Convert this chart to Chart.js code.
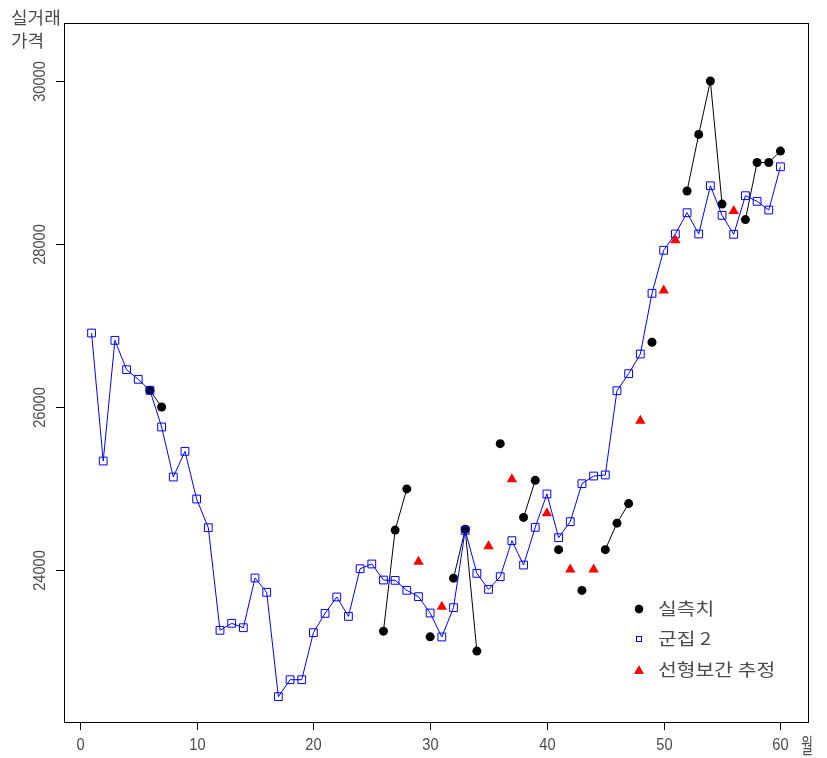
<!DOCTYPE html>
<html>
<head>
<meta charset="utf-8">
<script src="https://cdn.jsdelivr.net/npm/chart.js@4/dist/chart.umd.min.js"></script>
<style>
  html, body { margin: 0; padding: 0; background: #fff; }
  #wrap { width: 827px; height: 758px; }
</style>
</head>
<body>
<div id="wrap"><canvas id="chart" width="827" height="758"></canvas></div>
<script>
// month index (x axis)
const months = [1, 2, 3, 4, 5, 6, 7, 8, 9, 10, 11, 12, 13, 14, 15, 16, 17, 18, 19, 20,
  21, 22, 23, 24, 25, 26, 27, 28, 29, 30, 31, 32, 33, 34, 35, 36, 37, 38, 39, 40,
  41, 42, 43, 44, 45, 46, 47, 48, 49, 50, 51, 52, 53, 54, 55, 56, 57, 58, 59, 60];

// 실측치 (null = no trade that month)
const actual = [null, null, null, null, null, 26205, 26000, null, null, null,
  null, null, null, null, null, null, null, null, null, null,
  null, null, null, null, null, 23250, 24490, 24995, null, 23180,
  null, 23900, 24500, 23005, null, 25550, null, 24645, 25100, null,
  24250, null, 23750, null, 24250, 24575, 24815, null, 26795, null,
  null, 28650, 29345, 30000, 28490, null, 28300, 29000, 29000, 29140];

// 군집 2
const cluster2 = [26908, 25337, 26818, 26458, 26340, 26205, 25755, 25141, 25456, 24871,
  24519, 23260, 23346, 23292, 23902, 23726, 22446, 22654, 22654, 23231,
  23468, 23669, 23431, 24016, 24074, 23877, 23873, 23751, 23673, 23472,
  23178, 23538, 24487, 23959, 23763, 23918, 24360, 24061, 24524, 24933,
  24397, 24593, 25059, 25153, 25166, 26200, 26409, 26650, 27395, 27923,
  28123, 28384, 28123, 28715, 28352, 28119, 28593, 28524, 28417, 28948];

// 선형보간 추정
const interpMonths = [29, 31, 35, 37, 40, 42, 44, 48, 50, 51, 56];
const interpValues = [24100, 23550, 24290, 25115, 24695, 24005, 24005, 25830, 27430, 28045, 28405];

const xTicks = [0, 10, 20, 30, 40, 50, 60];
const yTicks = [24000, 26000, 28000, 30000];

const numFont = '17px "Liberation Sans", Arial, sans-serif';
const korFont = '17px "Noto Sans CJK KR", sans-serif';
const textColor = '#4a4a4a';

// draw text with a horizontal squeeze/stretch, optionally rotated
function scaledText(ctx, txt, x, y, rot, sx) {
  ctx.save();
  ctx.translate(x, y);
  if (rot) ctx.rotate(rot);
  ctx.scale(sx, 1);
  ctx.fillText(txt, 0, 0);
  ctx.restore();
}

const axesPlugin = {
  id: 'rAxes',
  afterDraw(chart) {
    const ctx = chart.ctx;
    const a = chart.chartArea;
    const xs = chart.scales.x, ys = chart.scales.y;
    ctx.save();
    ctx.strokeStyle = '#000';
    ctx.lineWidth = 1;
    ctx.strokeRect(Math.round(a.left) + 0.5, Math.round(a.top) + 0.5,
      Math.round(a.right - a.left), Math.round(a.bottom - a.top));

    ctx.fillStyle = textColor;
    ctx.font = numFont;
    ctx.textAlign = 'center';
    ctx.textBaseline = 'middle';
    xTicks.forEach(v => {
      const px = Math.round(xs.getPixelForValue(v)) + 0.5;
      ctx.beginPath();
      ctx.moveTo(px, a.bottom);
      ctx.lineTo(px, a.bottom + 8);
      ctx.stroke();
      scaledText(ctx, String(v), px, a.bottom + 23, 0, 0.86);
    });
    yTicks.forEach(v => {
      const py = Math.round(ys.getPixelForValue(v)) + 0.5;
      ctx.beginPath();
      ctx.moveTo(a.left, py);
      ctx.lineTo(a.left - 8, py);
      ctx.stroke();
      scaledText(ctx, String(v), 40, py, -Math.PI / 2, 0.86);
    });

    // axis titles
    ctx.font = korFont;
    ctx.textAlign = 'left';
    ctx.textBaseline = 'alphabetic';
    scaledText(ctx, '실거래', 11, 24, 0, 1.06);
    scaledText(ctx, '가격', 11, 47, 0, 1.06);
    ctx.font = '21px "Noto Sans CJK KR", sans-serif';
    ctx.textAlign = 'center';
    ctx.textBaseline = 'middle';
    scaledText(ctx, '월', 807, 745, 0, 0.62);

    // legend
    const lx = 639, ly = [609, 639, 670];
    const ds = chart.data.datasets;
    ctx.textBaseline = 'middle';
    ctx.textAlign = 'left';
    Chart.helpers.drawPoint(ctx, {pointStyle: 'circle', radius: 4.2, borderWidth: 0}, lx, ly[0]);
    ctx.fillStyle = '#000';
    ctx.fill();
    ctx.strokeStyle = '#0000ff';
    ctx.lineWidth = 1;
    ctx.strokeRect(lx - 2.5, ly[1] - 2.5, 5, 5);
    ctx.fillStyle = '#ff0000';
    Chart.helpers.drawPoint(ctx, {pointStyle: 'triangle', radius: 5.5, borderWidth: 0}, lx, ly[2] + 1);
    ctx.fill();
    ctx.fillStyle = textColor;
    ctx.font = '17px "Noto Sans CJK KR", sans-serif';
    ds.forEach((d, i) => scaledText(ctx, d.label, 658, ly[i], 0, 1.2));
    ctx.restore();
  }
};

new Chart(document.getElementById('chart'), {
  type: 'line',
  data: {
    datasets: [
      {label: '실측치', data: months.map((m, i) => ({x: m, y: actual[i]})),
       borderColor: '#000', borderWidth: 1, pointStyle: 'circle', pointRadius: 4.5,
       pointBackgroundColor: '#000', pointBorderWidth: 0, spanGaps: false, order: 3},
      {label: '군집 2', data: months.map((m, i) => ({x: m, y: cluster2[i]})),
       borderColor: '#0000ff', borderWidth: 1, pointStyle: 'rect', pointRadius: 5.5,
       pointBorderColor: '#0000ff', pointBackgroundColor: 'rgba(0,0,0,0)', pointBorderWidth: 1, order: 2},
      {label: '선형보간 추정', data: interpMonths.map((m, i) => ({x: m, y: interpValues[i]})),
       showLine: false, pointStyle: 'triangle', pointRadius: 6,
       pointBackgroundColor: '#ff0000', pointBorderWidth: 0, order: 1}
    ]
  },
  options: {
    responsive: false,
    animation: false,
    devicePixelRatio: 1,
    layout: {padding: {left: 64, top: 23, right: 19, bottom: 36}},
    elements: {line: {tension: 0}},
    scales: {
      x: {type: 'linear', min: -1.36, max: 62.36, display: false},
      y: {type: 'linear', min: 22135, max: 30712, display: false}
    },
    plugins: {legend: {display: false}, tooltip: {enabled: false}}
  },
  plugins: [axesPlugin]
});
</script>
</body>
</html>
